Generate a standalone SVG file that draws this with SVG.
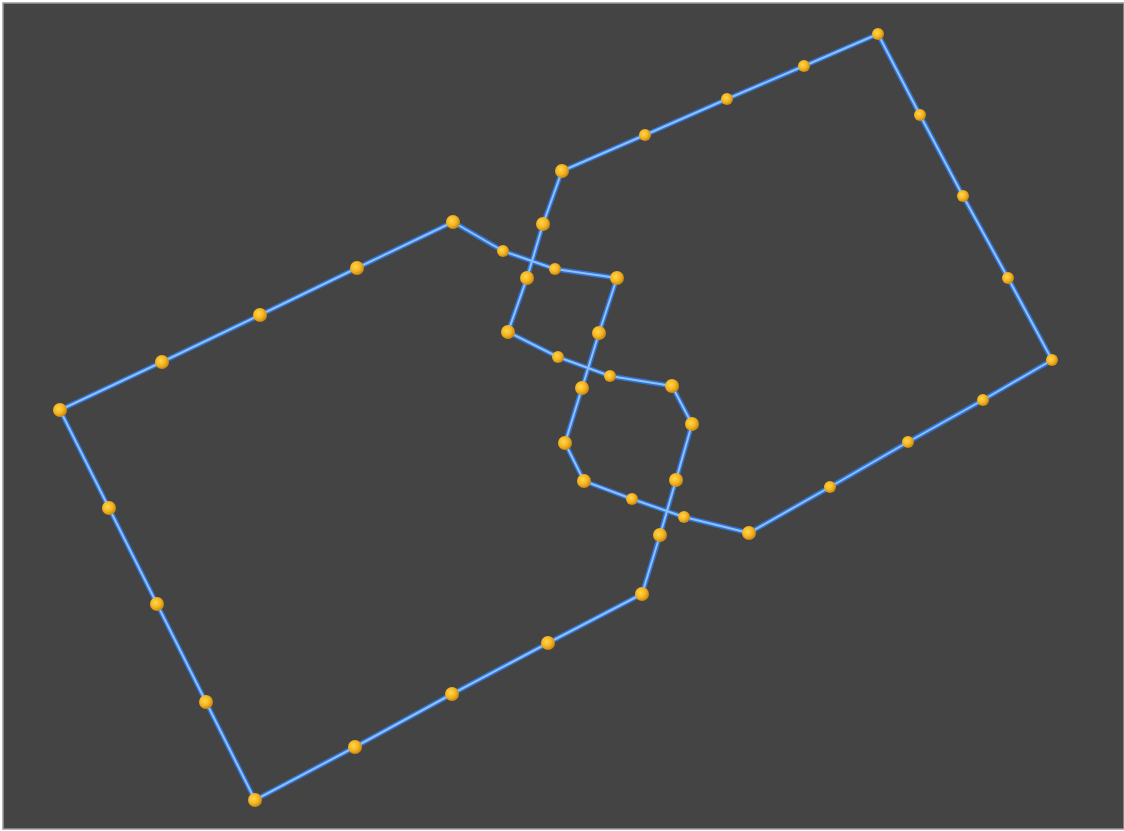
<svg xmlns="http://www.w3.org/2000/svg" width="1124" height="831" viewBox="0 0 1124 831">
<defs>
<radialGradient id="dotg" cx="0.4" cy="0.4" r="0.6">
<stop offset="0" stop-color="#ffd84a"/>
<stop offset="0.6" stop-color="#f5b321"/>
<stop offset="1" stop-color="#c98a10"/>
</radialGradient>
<style>
.lo{fill:none;stroke:#3373d6;stroke-width:5;stroke-linejoin:round}
.li{fill:none;stroke:#8cc2f8;stroke-width:2;stroke-linejoin:round}
.d{fill:url(#dotg)}
</style>
</defs>
<rect x="0" y="0" width="1124" height="831" fill="#ffffff"/>
<rect x="3" y="3" width="1121" height="826" fill="#444444" stroke="#9a9a9a" stroke-width="1.5"/>
<g id="connectors">
<polygon id="loop" class="lo" points="453,222 503,251 555,269 617,278 599,333 582,388 565,443 584,481 632,499 684,517 749,533 830,487 908,442 983,400 1052,360 1008,278 963,196 920,115 878,34 804,66 727,99 645,135 562,171 543,224 527,278 508,332 558,357 610,376 672,386 692,424 676,480 660,535 642,594 548,643 452,694 355,747 255,800 206,702 157,604 109,508 60,410 162,362 260,315 357,268"/>
<polygon class="li" points="453,222 503,251 555,269 617,278 599,333 582,388 565,443 584,481 632,499 684,517 749,533 830,487 908,442 983,400 1052,360 1008,278 963,196 920,115 878,34 804,66 727,99 645,135 562,171 543,224 527,278 508,332 558,357 610,376 672,386 692,424 676,480 660,535 642,594 548,643 452,694 355,747 255,800 206,702 157,604 109,508 60,410 162,362 260,315 357,268"/>
</g>
<g id="dots">
<circle class="d" cx="453" cy="222" r="7"/>
<circle class="d" cx="503" cy="251" r="6"/>
<circle class="d" cx="555" cy="269" r="6"/>
<circle class="d" cx="617" cy="278" r="7"/>
<circle class="d" cx="599" cy="333" r="7"/>
<circle class="d" cx="582" cy="388" r="7"/>
<circle class="d" cx="565" cy="443" r="7"/>
<circle class="d" cx="584" cy="481" r="7"/>
<circle class="d" cx="632" cy="499" r="6"/>
<circle class="d" cx="684" cy="517" r="6"/>
<circle class="d" cx="749" cy="533" r="7"/>
<circle class="d" cx="830" cy="487" r="6"/>
<circle class="d" cx="908" cy="442" r="6"/>
<circle class="d" cx="983" cy="400" r="6"/>
<circle class="d" cx="1052" cy="360" r="6"/>
<circle class="d" cx="1008" cy="278" r="6"/>
<circle class="d" cx="963" cy="196" r="6"/>
<circle class="d" cx="920" cy="115" r="6"/>
<circle class="d" cx="878" cy="34" r="6"/>
<circle class="d" cx="804" cy="66" r="6"/>
<circle class="d" cx="727" cy="99" r="6"/>
<circle class="d" cx="645" cy="135" r="6"/>
<circle class="d" cx="562" cy="171" r="7"/>
<circle class="d" cx="543" cy="224" r="7"/>
<circle class="d" cx="527" cy="278" r="7"/>
<circle class="d" cx="508" cy="332" r="7"/>
<circle class="d" cx="558" cy="357" r="6"/>
<circle class="d" cx="610" cy="376" r="6"/>
<circle class="d" cx="672" cy="386" r="7"/>
<circle class="d" cx="692" cy="424" r="7"/>
<circle class="d" cx="676" cy="480" r="7"/>
<circle class="d" cx="660" cy="535" r="7"/>
<circle class="d" cx="642" cy="594" r="7"/>
<circle class="d" cx="548" cy="643" r="7"/>
<circle class="d" cx="452" cy="694" r="7"/>
<circle class="d" cx="355" cy="747" r="7"/>
<circle class="d" cx="255" cy="800" r="7"/>
<circle class="d" cx="206" cy="702" r="7"/>
<circle class="d" cx="157" cy="604" r="7"/>
<circle class="d" cx="109" cy="508" r="7"/>
<circle class="d" cx="60" cy="410" r="7"/>
<circle class="d" cx="162" cy="362" r="7"/>
<circle class="d" cx="260" cy="315" r="7"/>
<circle class="d" cx="357" cy="268" r="7"/>
</g>
</svg>
